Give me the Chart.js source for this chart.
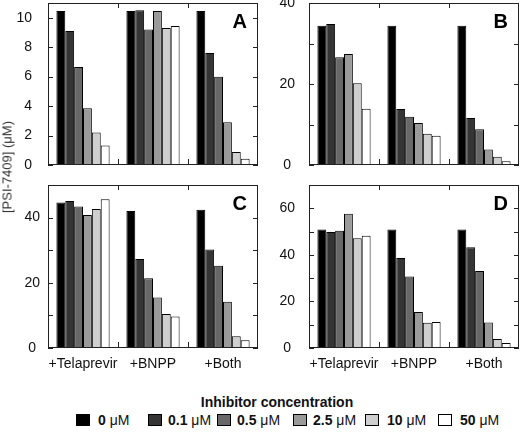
<!DOCTYPE html>
<html lang="en">
<head>
<meta charset="UTF-8" />
<script src="https://cdn.jsdelivr.net/npm/chart.js"></script>
<style>
  body { margin: 0; width: 520px; height: 432px; background: #fff; position: relative; overflow: hidden; font-family: Arial, "Liberation Sans", sans-serif; }
  .panel { position: absolute; }
  #ytitle { position: absolute; left: 7px; top: 167px; transform: translate(-50%, -50%) rotate(-90deg); font-size: 13px; color: #333; white-space: nowrap; }
  #legTitle { position: absolute; left: 277px; top: 402px; transform: translate(-50%, -50%); font-size: 14px; font-weight: bold; color: #111; white-space: nowrap; }
  .leg { position: absolute; top: 413px; height: 14px; font-size: 14px; line-height: 14px; color: #111; white-space: nowrap; }
  .leg i { position: absolute; top: 1px; width: 12px; height: 10px; border: 1px solid #000; }
  .leg b { position: absolute; top: 0; }
  .leg span { font-weight: normal; }
</style>
</head>
<body>
<div class="panel" style="left:0;top:0;width:260px;height:170px"><canvas id="pA"></canvas></div>
<div class="panel" style="left:261px;top:0;width:259px;height:170px"><canvas id="pB"></canvas></div>
<div class="panel" style="left:0;top:175px;width:260px;height:210px"><canvas id="pC"></canvas></div>
<div class="panel" style="left:261px;top:175px;width:259px;height:210px"><canvas id="pD"></canvas></div>
<div id="ytitle">[PSI-7409] (μM)</div>
<div id="legTitle">Inhibitor concentration</div>
<div id="legend"></div>

<script>
  // categories and series
  const categorias = ['+Telaprevir', '+BNPP', '+Both'];
  const concentraciones = ['0', '0.1', '0.5', '2.5', '10', '50'];
  const colores = ['#000000', '#353535', '#686868', '#9a9a9a', '#cfcfcf', '#ffffff'];

  // values per panel: one array per concentration, [Telaprevir, BNPP, Both]
  const datosA = [
    [10.45, 10.45, 10.45],
    [9.1, 10.5, 7.6],
    [6.65, 9.2, 6.0],
    [3.85, 10.45, 2.9],
    [2.2, 9.3, 0.88],
    [1.33, 9.43, 0.43]
  ];
  const datosB = [
    [34.4, 34.4, 34.4],
    [34.8, 13.8, 11.6],
    [26.6, 11.9, 8.85],
    [27.4, 10.4, 3.85],
    [20.2, 7.7, 2.05],
    [13.9, 7.2, 0.9]
  ];
  const datosC = [
    [44.6, 42.05, 42.4],
    [45.1, 27.3, 30.2],
    [43.4, 21.4, 25.2],
    [40.8, 15.5, 14.2],
    [42.6, 10.4, 3.6],
    [45.6, 9.7, 2.4]
  ];
  const datosD = [
    [50.9, 50.9, 50.9],
    [49.8, 38.6, 43.3],
    [50.4, 30.7, 33.1],
    [57.7, 15.5, 10.9],
    [47.1, 10.8, 3.9],
    [48.2, 11.2, 2.2]
  ];

  // leyenda en HTML (posiciones como en la figura)
  const legX = [76, 148, 217, 293, 365, 438];
  document.getElementById('legend').innerHTML = concentraciones.map((c, i) => `
    <div class="leg" style="left:${legX[i]}px">
      <i style="background:${colores[i]}"></i>
      <b style="left:${c.length > 2 ? 20 : 22}px">${c} <span>μM</span></b>
    </div>`).join('');

  // marco, ticks hacia dentro y letra del panel
  const marcoPlugin = {
    id: 'marco',
    afterDraw(chart, args, opts) {
      const { ctx, chartArea: a, scales } = chart;
      ctx.save();
      ctx.strokeStyle = '#222';
      ctx.lineWidth = 1;
      ctx.strokeRect(Math.round(a.left) + 0.5, Math.round(a.top) + 0.5, Math.round(a.right - a.left) - 1, Math.round(a.bottom - a.top) - 1);
      ctx.beginPath();
      scales.y.ticks.forEach(t => {
        const py = Math.round(scales.y.getPixelForValue(t.value)) + 0.5;
        ctx.moveTo(a.left, py); ctx.lineTo(a.left + 5, py);
        ctx.moveTo(a.right - 5, py); ctx.lineTo(a.right, py);
      });
      for (let i = 0; i < categorias.length - 1; i++) {
        const px = Math.round((scales.x.getPixelForValue(i) + scales.x.getPixelForValue(i + 1)) / 2) + 0.5;
        ctx.moveTo(px, a.top); ctx.lineTo(px, a.top + 5);
        ctx.moveTo(px, a.bottom - 6); ctx.lineTo(px, a.bottom);
      }
      ctx.stroke();
      ctx.fillStyle = '#000';
      ctx.font = 'bold 20px Arial, "Liberation Sans", sans-serif';
      ctx.textAlign = 'right';
      ctx.textBaseline = 'top';
      ctx.fillText(opts.letra, a.right - 11, a.top + 9);
      ctx.restore();
    }
  };

  function crearPanel(id, letra, datos, max, paso, mayor, opts) {
    const ctx = document.getElementById(id).getContext('2d');
    return new Chart(ctx, {
      type: 'bar',
      data: {
        labels: categorias,
        datasets: datos.map((d, i) => ({
          label: concentraciones[i] + ' μM',
          data: d,
          backgroundColor: colores[i],
          borderColor: '#000',
          borderWidth: 1,
          borderSkipped: false,
          categoryPercentage: 0.76,
          barPercentage: 1
        }))
      },
      options: {
        responsive: true,
        maintainAspectRatio: false,
        animation: false,
        layout: { padding: { top: opts.top, right: opts.right, left: 0, bottom: 0 } },
        plugins: {
          legend: { display: false },
          tooltip: { enabled: false },
          marco: { letra }
        },
        scales: {
          x: {
            grid: { display: false, drawTicks: false },
            border: { display: false },
            ticks: {
              display: opts.xLabels,
              padding: 8,
              maxRotation: 0,
              minRotation: 0,
              autoSkip: false,
              color: '#111',
              font: { size: 14, family: 'Arial, "Liberation Sans", sans-serif' }
            },
            afterFit: s => { s.height = opts.xHeight; s.paddingLeft = 0; s.paddingRight = 0; }
          },
          y: {
            min: 0,
            max: max,
            grid: { display: false, drawTicks: false },
            border: { display: false },
            ticks: {
              stepSize: paso,
              padding: opts.yPad,
              crossAlign: opts.align,
              color: '#111',
              font: { size: 14, family: 'Arial, "Liberation Sans", sans-serif' },
              callback: v => (v % mayor === 0 ? String(v) : '')
            },
            afterFit: s => { s.width = 48; s.paddingTop = 0; s.paddingBottom = 0; }
          }
        }
      },
      plugins: [marcoPlugin]
    });
  }

  crearPanel('pA', 'A', datosA, 11, 1, 2, { top: 3, right: 2, xHeight: 5, xLabels: false, yPad: 16, align: 'near' });
  crearPanel('pB', 'B', datosB, 40, 5, 20, { top: 3, right: 1, xHeight: 5, xLabels: false, yPad: 14, align: 'center' });
  crearPanel('pC', 'C', datosC, 50, 5, 20, { top: 10, right: 2, xHeight: 37, xLabels: true, yPad: 8, align: 'center' });
  crearPanel('pD', 'D', datosD, 70, 10, 20, { top: 10, right: 1, xHeight: 37, xLabels: true, yPad: 14, align: 'center' });
</script>
</body>
</html>
